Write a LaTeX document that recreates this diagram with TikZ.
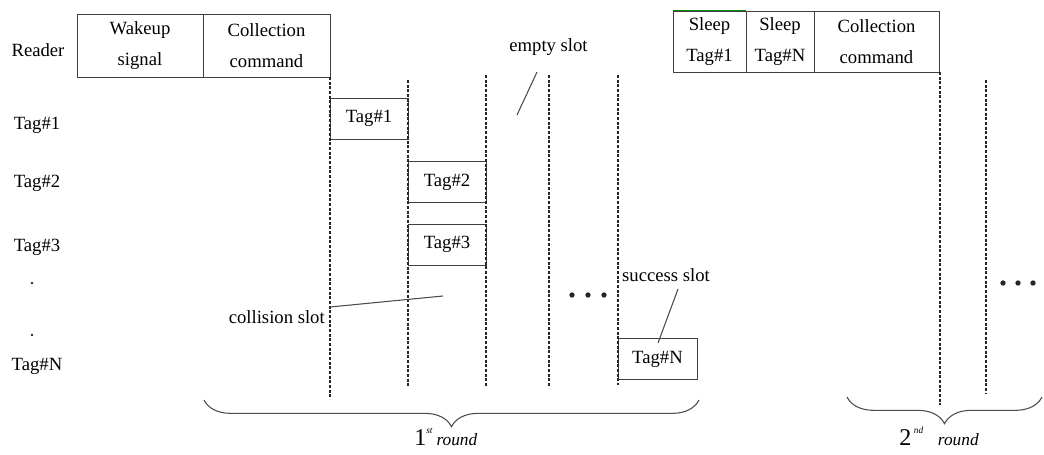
\documentclass[tikz,border=0pt]{standalone}
\usepackage{fontspec}
\setmainfont{Liberation Serif}
\usetikzlibrary{decorations.pathreplacing}
\begin{document}
\begin{tikzpicture}[x=0.75pt,y=-0.75pt,
  lbl/.style={font=\fontsize{14}{16}\selectfont, inner sep=0pt},
  cell/.style={draw=black!75, line width=0.7pt, align=center, font=\fontsize{14}{23}\selectfont, inner sep=0pt},
  tagbox/.style={draw=black!75, line width=0.7pt, font=\fontsize{14}{16}\selectfont, inner sep=0pt, minimum width=58.5pt, minimum height=30.75pt},
  slotline/.style={draw=black!85, line width=0.95pt, dash pattern=on 2.2pt off 1.3pt},
  pointer/.style={draw=black!70, line width=0.8pt},
  dotmark/.style={circle, fill=black!85, inner sep=0pt, minimum size=4pt},
  smalldot/.style={circle, fill=black!85, inner sep=0pt, minimum size=2pt},
  brc/.style={draw=black!70, line width=0.8pt, decorate, decoration={brace, mirror, amplitude=20pt}},
]
\useasboundingbox (0,0) rectangle (1044,454);

% reader commands
\node[cell, minimum width=94.5pt, minimum height=47.25pt] (wake) at (140,45.5) {Wakeup\\signal};
\node[cell, minimum width=95.25pt, minimum height=47.25pt] (coll) at (266.5,45.5) {Collection\\command};
\node[cell, minimum width=54.75pt, minimum height=45.75pt] (s1) at (709.5,41.5) {Sleep\\Tag\#1};
\node[cell, minimum width=51pt, minimum height=45.75pt] (s2) at (780,41.5) {Sleep\\Tag\#N};
\node[cell, minimum width=93.75pt, minimum height=45.75pt] (coll2) at (876.5,41.5) {Collection\\command};
\draw[green!55!black, line width=0.8pt] (s1.north west) -- (s1.north east);

% left labels
\node[lbl] (reader) at (38,50) {Reader};
\node[lbl] (l1) at (37,125) {Tag\#1};
\node[lbl] (l2) at (37,183) {Tag\#2};
\node[lbl] (l3) at (37,247) {Tag\#3};
\node[smalldot] (ld1) at (32,283) {};
\node[smalldot] (ld2) at (32,335) {};
\node[lbl] (lN) at (37,366) {Tag\#N};

% tag responses
\node[tagbox] (t1) at (369,118.5) {Tag\#1};
\node[tagbox] (t2) at (447,182) {Tag\#2};
\node[tagbox] (t3) at (447,244.5) {Tag\#3};
\node[tagbox, minimum width=59.25pt] (tN) at (657.5,359) {Tag\#N};

% slot boundaries
\coordinate (v1t) at (330,77);  \coordinate (v1b) at (330,399);
\coordinate (v2t) at (408,80);  \coordinate (v2b) at (408,387);
\coordinate (v3t) at (486,75);  \coordinate (v3b) at (486,387);
\coordinate (v4t) at (549,75);  \coordinate (v4b) at (549,387);
\coordinate (v5t) at (618,75);  \coordinate (v5b) at (618,385);
\coordinate (v6t) at (940,72);  \coordinate (v6b) at (940,405);
\coordinate (v7t) at (986,80);  \coordinate (v7b) at (986,393);
\draw[slotline] (v1t) -- (v1b);
\draw[slotline] (v2t) -- (v2b);
\draw[slotline] (v3t) -- (v3b);
\draw[slotline] (v4t) -- (v4b);
\draw[slotline] (v5t) -- (v5b);
\draw[slotline] (v6t) -- (v6b);
\draw[slotline] (v7t) -- (v7b);

% annotations
\node[lbl] (empty) at (548.5,47) {empty slot};
\coordinate (e1) at (537,72); \coordinate (e2) at (517,115);
\draw[pointer] (e1) -- (e2);

\node[lbl, anchor=east] (colltxt) at (325,317) {collision slot};
\coordinate (c1) at (330,307); \coordinate (c2) at (443,296);
\draw[pointer] (c1) -- (c2);

\node[lbl] (succ) at (666,275) {success slot};
\coordinate (u1) at (678,289); \coordinate (u2) at (658,343);
\draw[pointer] (u1) -- (u2);

% ellipses
\node[dotmark] (d1) at (572,295) {};
\node[dotmark] (d2) at (588,295) {};
\node[dotmark] (d3) at (604,295) {};
\node[dotmark] (d4) at (1003,283) {};
\node[dotmark] (d5) at (1018,283) {};
\node[dotmark] (d6) at (1033,283) {};

% braces
\coordinate (b1s) at (204,400); \coordinate (b1e) at (699,400);
\draw[brc] (b1s) -- (b1e);
\coordinate (b2s) at (847,397); \coordinate (b2e) at (1042,397);
\draw[brc] (b2s) -- (b2e);

\node[anchor=base west, inner sep=0pt] (r1) at (414,445)
  {\fontsize{18}{18}\selectfont 1\raisebox{9pt}{\fontsize{7}{7}\selectfont\itshape st}\hspace{3pt}{\fontsize{13}{13}\selectfont\itshape round}};
\node[anchor=base west, inner sep=0pt] (r2) at (899,445)
  {\fontsize{18}{18}\selectfont 2\hspace{2pt}\raisebox{9pt}{\fontsize{7}{7}\selectfont\itshape nd}\hspace{11pt}{\fontsize{13}{13}\selectfont\itshape round}};
\end{tikzpicture}
\end{document}
